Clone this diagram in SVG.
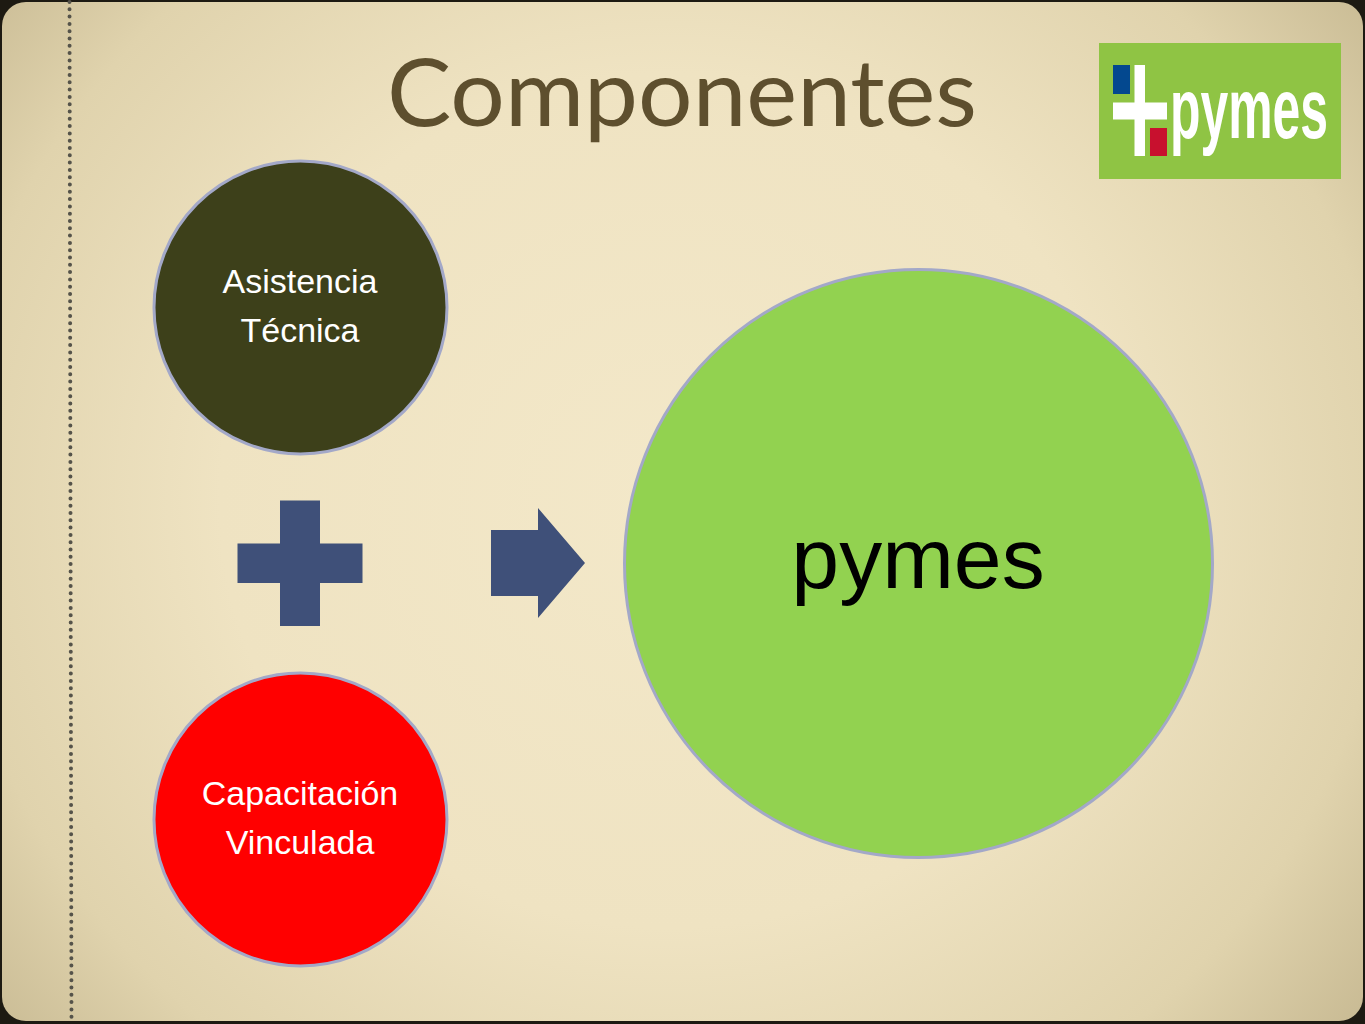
<svg xmlns="http://www.w3.org/2000/svg" width="1365" height="1024" viewBox="0 0 1365 1024">
<defs>
<radialGradient id="bg" gradientUnits="userSpaceOnUse" cx="670" cy="500" r="900" gradientTransform="translate(670 500) scale(1 0.95) translate(-670 -500)">
<stop offset="0" stop-color="#f3e8c9"/><stop offset="0.5" stop-color="#efe3c2"/><stop offset="0.8" stop-color="#e0d3ad"/><stop offset="1" stop-color="#c6b891"/>
</radialGradient>
<style>
.node{stroke:#a3a8c8;stroke-width:3}
.lab{font-family:"Liberation Sans",Arial,sans-serif;font-size:34px;fill:#fff;text-anchor:middle}
.sym{fill:#3f5079}
</style>
</defs>
<rect width="1365" height="1024" fill="#1d1a12"/>
<rect x="2" y="2" width="1361" height="1019" rx="24" ry="24" fill="url(#bg)"/>
<line x1="69.500" y1="2" x2="71.500" y2="1022" stroke="#55534a" stroke-width="4" stroke-linecap="round" stroke-dasharray="0 7.300"/>
<text id="title" x="682" y="126" font-family="Lato,'Noto Sans',sans-serif" font-size="93" fill="#5e4f2e" text-anchor="middle" textLength="590" lengthAdjust="spacingAndGlyphs">Componentes</text>
<g id="logo">
<rect x="1099" y="43" width="242" height="136" fill="#8fc444"/>
<rect x="1113" y="65" width="17" height="29" fill="#03488f"/>
<rect x="1150" y="128" width="17" height="28" fill="#c8102e"/>
<rect x="1134.500" y="65" width="10.500" height="91" fill="#fff"/>
<rect x="1113" y="102.500" width="54" height="17" fill="#fff"/>
<text transform="translate(1170 138) scale(0.58 1)" x="0" y="0" font-family="'Liberation Sans',Arial,sans-serif" font-weight="700" font-size="86" fill="#fff">pymes</text>
</g>
<g id="node-asistencia">
<circle class="node" cx="300.500" cy="307.500" r="146.500" fill="#3d401a"/>
<text class="lab" x="300" y="293">Asistencia</text>
<text class="lab" x="300" y="342">Técnica</text>
</g>
<g id="node-capacitacion">
<circle class="node" cx="300.500" cy="819.500" r="146.500" fill="#ff0000"/>
<text class="lab" x="300" y="805">Capacitación</text>
<text class="lab" x="300" y="854">Vinculada</text>
</g>
<g id="node-pymes">
<circle class="node" cx="918.500" cy="563.500" r="294" fill="#92d250"/>
<text x="918" y="588" font-family="'Liberation Sans',Arial,sans-serif" font-size="86" fill="#000" text-anchor="middle">pymes</text>
</g>
<g id="connectors">
<path id="plus" class="sym" d="M280 500.500H320V543.500H362.500V583H320V626H280V583H237.500V543.500H280Z"/>
<path id="arrow" class="sym" d="M491 530H538V508L585 563L538 618V596H491Z"/>
</g>
</svg>
